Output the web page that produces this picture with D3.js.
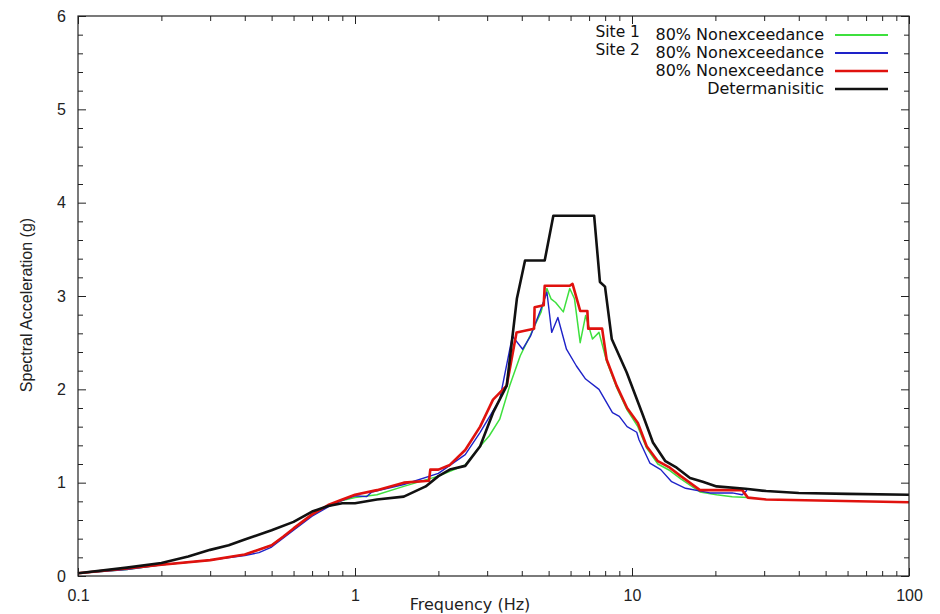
<!DOCTYPE html>
<html>
<head>
<meta charset="utf-8">
<title>Spectral Acceleration</title>
<script src="https://d3js.org/d3.v7.min.js"></script>
<style>
    body { margin: 0; background: #fff; }
    .tick text { font-family: "Liberation Sans", Arial, sans-serif; font-size: 16px; fill: #222; }
</style>
</head>
<body>
<script>
// series data (frequency in Hz, spectral acceleration in g)
const site1Freq = [0.1, 0.15, 0.2, 0.3, 0.4, 0.5, 0.6, 0.7, 0.8, 0.9, 1.0, 1.2, 1.5, 2.0, 2.5, 2.83, 3.05, 3.33, 3.62, 3.95, 4.28, 4.45, 4.7, 4.93, 5.1, 5.3, 5.65, 5.96, 6.2, 6.5, 6.8, 7.2, 7.6, 8.1, 8.8, 9.6, 10.5, 11.3, 12.4, 13.7, 15, 17.6, 20.2, 23, 26.2];
const site1SA   = [0.03, 0.07, 0.12, 0.17, 0.23, 0.33, 0.5, 0.65, 0.75, 0.81, 0.84, 0.87, 0.96, 1.07, 1.19, 1.39, 1.5, 1.68, 2.04, 2.36, 2.57, 2.68, 2.83, 3.08, 2.97, 2.93, 2.83, 3.08, 2.97, 2.5, 2.79, 2.54, 2.61, 2.3, 2.02, 1.78, 1.6, 1.37, 1.2, 1.13, 1.04, 0.9, 0.87, 0.85, 0.84];

const site2Freq = [0.1, 0.15, 0.2, 0.3, 0.4, 0.45, 0.5, 0.6, 0.7, 0.8, 0.9, 1.0, 1.1, 1.15, 1.5, 2.0, 2.5, 2.83, 3.33, 3.7, 4.03, 4.3, 4.65, 4.93, 5.13, 5.4, 5.8, 6.3, 6.8, 7.6, 8.5, 9.0, 9.6, 10.4, 10.6, 11.6, 12.7, 13.9, 15.6, 19.1, 23, 25, 26];
const site2SA   = [0.03, 0.07, 0.12, 0.17, 0.22, 0.25, 0.31, 0.49, 0.64, 0.74, 0.81, 0.86, 0.85, 0.9, 0.98, 1.1, 1.3, 1.54, 1.89, 2.57, 2.43, 2.57, 2.83, 3.04, 2.61, 2.77, 2.43, 2.25, 2.11, 2.0, 1.75, 1.71, 1.6, 1.54, 1.46, 1.21, 1.14, 1.01, 0.94, 0.89, 0.89, 0.87, 0.92];

const envFreq = [0.1, 0.15, 0.2, 0.3, 0.4, 0.5, 0.55, 0.6, 0.7, 0.8, 0.9, 1.0, 1.2, 1.5, 1.85, 1.87, 2.0, 2.2, 2.5, 2.83, 3.15, 3.53, 3.83, 4.43, 4.45, 4.8, 4.84, 5.96, 6.1, 6.5, 6.9, 6.95, 7.8, 8.1, 8.8, 9.6, 10.5, 11.3, 12.4, 13.7, 15, 17.6, 20.2, 25, 26.2, 30.5, 100];
const envSA   = [0.03, 0.08, 0.12, 0.17, 0.23, 0.33, 0.42, 0.51, 0.66, 0.76, 0.82, 0.87, 0.92, 1.0, 1.02, 1.14, 1.14, 1.19, 1.35, 1.6, 1.89, 2.04, 2.61, 2.65, 2.88, 2.9, 3.11, 3.11, 3.13, 2.84, 2.84, 2.65, 2.65, 2.32, 2.04, 1.8, 1.64, 1.39, 1.23, 1.16, 1.07, 0.92, 0.92, 0.92, 0.84, 0.82, 0.79];

const detFreq = [0.1, 0.15, 0.2, 0.25, 0.3, 0.35, 0.4, 0.5, 0.6, 0.7, 0.8, 0.9, 1.0, 1.2, 1.5, 1.8, 2.0, 2.2, 2.5, 2.83, 3.15, 3.53, 3.84, 4.11, 4.84, 5.2, 7.3, 7.66, 7.99, 8.45, 9.57, 10.96, 11.9, 13.2, 14.5, 16.2, 18, 20.2, 25.7, 30.5, 40, 60, 100];
const detSA   = [0.03, 0.09, 0.14, 0.21, 0.28, 0.33, 0.39, 0.49, 0.58, 0.69, 0.75, 0.78, 0.78, 0.82, 0.85, 0.96, 1.07, 1.14, 1.18, 1.39, 1.75, 2.04, 2.97, 3.38, 3.38, 3.86, 3.86, 3.15, 3.1, 2.54, 2.18, 1.72, 1.43, 1.23, 1.16, 1.05, 1.01, 0.96, 0.935, 0.91, 0.89, 0.88, 0.87];

const xTicks = [0.1, 1, 10, 100];
const yTicks = [0, 1, 2, 3, 4, 5, 6];

const legendPrefix = ["Site 1", "Site 2", "", ""];
const legendText = ["80% Nonexceedance", "80% Nonexceedance", "80% Nonexceedance", "Determanisitic"];

const series = [
    { f: site1Freq, v: site1SA, color: "#3ee03e", width: 1.5 },
    { f: site2Freq, v: site2SA, color: "#1e22c8", width: 1.4 },
    { f: envFreq,   v: envSA,   color: "#e0120e", width: 2.6 },
    { f: detFreq,   v: detSA,   color: "#111111", width: 2.6 }
];

const W = 940, H = 614;
const mLeft = 78, mRight = 909, mTop = 16, mBottom = 576;

const svg = d3.select("body").append("svg")
    .attr("width", W)
    .attr("height", H);

const x = d3.scaleLog().domain([0.1, 100]).range([mLeft, mRight]);
const y = d3.scaleLinear().domain([0, 6]).range([mBottom, mTop]);

// minor tick values
let xMinor = [];
[0.1, 1, 10].forEach(d => { for (let k = 2; k <= 9; k++) xMinor.push(d * k); });
let yMinor = d3.range(0, 6.01, 0.2).filter(v => Math.abs(v - Math.round(v)) > 0.01);

function tidy(g) {
    g.select(".domain").remove();
    g.selectAll(".tick line").attr("stroke", "#222");
}

// bottom axis with labels
svg.append("g")
    .attr("transform", `translate(0,${mBottom})`)
    .call(d3.axisBottom(x).tickValues(xTicks).tickFormat(d3.format("~g")).tickSizeInner(-8).tickSizeOuter(0).tickPadding(14))
    .call(tidy);
svg.append("g")
    .attr("transform", `translate(0,${mBottom})`)
    .call(d3.axisBottom(x).tickValues(xMinor).tickFormat("").tickSizeInner(-5).tickSizeOuter(0))
    .call(tidy);

// top mirror ticks
svg.append("g")
    .attr("transform", `translate(0,${mTop})`)
    .call(d3.axisTop(x).tickValues(xTicks).tickFormat("").tickSizeInner(-8).tickSizeOuter(0))
    .call(tidy);
svg.append("g")
    .attr("transform", `translate(0,${mTop})`)
    .call(d3.axisTop(x).tickValues(xMinor).tickFormat("").tickSizeInner(-5).tickSizeOuter(0))
    .call(tidy);

// left axis with labels
svg.append("g")
    .attr("transform", `translate(${mLeft},0)`)
    .call(d3.axisLeft(y).tickValues(yTicks).tickFormat(d3.format("d")).tickSizeInner(-8).tickSizeOuter(0).tickPadding(12))
    .call(tidy);
svg.append("g")
    .attr("transform", `translate(${mLeft},0)`)
    .call(d3.axisLeft(y).tickValues(yMinor).tickFormat("").tickSizeInner(-5).tickSizeOuter(0))
    .call(tidy);

// right mirror ticks
svg.append("g")
    .attr("transform", `translate(${mRight},0)`)
    .call(d3.axisRight(y).tickValues(yTicks).tickFormat("").tickSizeInner(-8).tickSizeOuter(0))
    .call(tidy);
svg.append("g")
    .attr("transform", `translate(${mRight},0)`)
    .call(d3.axisRight(y).tickValues(yMinor).tickFormat("").tickSizeInner(-5).tickSizeOuter(0))
    .call(tidy);

// curves
const line = d3.line()
    .x(d => x(d[0]))
    .y(d => y(d[1]));

series.forEach(s => {
    svg.append("path")
        .datum(s.f.map((f, i) => [f, s.v[i]]))
        .attr("d", line)
        .attr("fill", "none")
        .attr("stroke", s.color)
        .attr("stroke-width", s.width)
        .attr("stroke-linejoin", "round");
});

// frame
svg.append("rect")
    .attr("x", mLeft)
    .attr("y", mTop)
    .attr("width", mRight - mLeft)
    .attr("height", mBottom - mTop)
    .style("fill", "none")
    .style("stroke", "#222")
    .style("stroke-width", 1.2);

// axis titles
svg.append("text")
    .attr("x", 470)
    .attr("y", 610)
    .attr("text-anchor", "middle")
    .style("font-family", "'DejaVu Sans', sans-serif")
    .style("font-size", "16px")
    .style("fill", "#222")
    .text("Frequency (Hz)");

svg.append("text")
    .attr("transform", "translate(32,305) rotate(-90)")
    .attr("text-anchor", "middle")
    .style("font-family", "'Liberation Sans', Arial, sans-serif")
    .style("font-size", "16px")
    .style("fill", "#222")
    .text("Spectral Acceleration (g)");

// legend
const legRows = [35, 53, 71, 89];
const leg = svg.append("g").attr("class", "legend");
series.forEach((s, i) => {
    const ry = legRows[i];
    leg.append("line")
        .attr("x1", 835).attr("x2", 888)
        .attr("y1", ry).attr("y2", ry)
        .attr("stroke", s.color)
        .attr("stroke-width", s.width < 2 ? 2 : 2.6);
    leg.append("text")
        .attr("x", 824)
        .attr("y", ry + 5)
        .attr("text-anchor", "end")
        .style("font-family", "'DejaVu Sans', sans-serif")
        .style("font-size", "16px")
        .style("fill", "#111")
        .text(legendText[i]);
    if (legendPrefix[i]) {
        leg.append("text")
            .attr("x", 640)
            .attr("y", ry + 2)
            .attr("text-anchor", "end")
            .style("font-family", "'DejaVu Sans', sans-serif")
            .style("font-size", "15.5px")
            .style("fill", "#111")
            .text(legendPrefix[i]);
    }
});
</script>
</body>
</html>
